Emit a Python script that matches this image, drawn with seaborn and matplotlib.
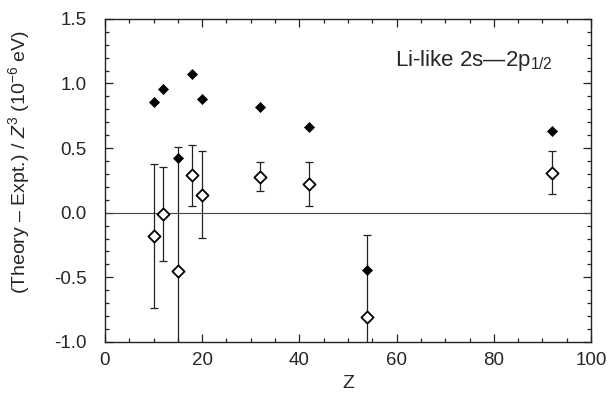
import matplotlib
matplotlib.use("Agg")
import matplotlib.pyplot as plt
import seaborn as sns
import pandas as pd
from matplotlib.ticker import MultipleLocator

# Li-like 2s-2p1/2 residuals, scaled by Z^3
z_open = [10, 12, 15, 18, 20, 32, 42, 54, 92]
dev_open = [-0.18, -0.01, -0.45, 0.29, 0.14, 0.28, 0.22, -0.81, 0.31]
err_open = [0.56, 0.365, 0.96, 0.235, 0.335, 0.113, 0.17, 0.635, 0.168]

z_filled = [10, 12, 15, 18, 20, 32, 42, 54, 92]
dev_filled = [0.86, 0.96, 0.42, 1.075, 0.88, 0.82, 0.66, -0.44, 0.635]

x_ticks = [0, 20, 40, 60, 80, 100]
y_ticks = [-1.0, -0.5, 0.0, 0.5, 1.0, 1.5]

sns.set_style("ticks")
plt.rcParams["font.family"] = ["Liberation Sans", "DejaVu Sans"]
plt.rcParams["mathtext.fontset"] = "custom"
plt.rcParams["mathtext.rm"] = "Liberation Sans"
plt.rcParams["mathtext.it"] = "Liberation Sans:italic"
plt.rcParams["axes.unicode_minus"] = False

fig = plt.figure(figsize=(6.10, 3.93), dpi=100)
ax = fig.add_axes([0.172, 0.130, 0.797, 0.822])

ax.axhline(0, color="#444444", lw=0.8, zorder=1)

ax.errorbar(z_open, dev_open, yerr=err_open, fmt="none", ecolor="#222222",
            elinewidth=0.9, capsize=3, capthick=0.9, zorder=2)

df_open = pd.DataFrame({"Z": z_open, "dev": dev_open})
df_filled = pd.DataFrame({"Z": z_filled, "dev": dev_filled})

sns.scatterplot(data=df_open, x="Z", y="dev", marker="D", s=38,
                facecolor="white", edgecolor="black", linewidth=1.3,
                ax=ax, zorder=3)
sns.scatterplot(data=df_filled, x="Z", y="dev", marker="D", s=26,
                color="black", edgecolor="black", linewidth=0.5,
                ax=ax, zorder=3)

ax.set_xlim(0, 100)
ax.set_ylim(-1.0, 1.5)
ax.set_xticks(x_ticks)
ax.set_yticks(y_ticks)
ax.set_xticklabels([str(v) for v in x_ticks])
ax.set_yticklabels([f"{v:.1f}" for v in y_ticks])
ax.xaxis.set_minor_locator(MultipleLocator(5))
ax.yaxis.set_minor_locator(MultipleLocator(0.1))
ax.tick_params(which="both", direction="in", top=True, right=True,
               color="#222222", width=0.9)
ax.tick_params(which="major", length=6, labelsize=13.5)
ax.tick_params(axis="x", which="major", pad=7)
ax.tick_params(axis="y", which="major", pad=13)
ax.tick_params(which="minor", length=3)
for sp in ax.spines.values():
    sp.set_linewidth(1.0)
    sp.set_color("#222222")

ax.set_xlabel("Z", fontsize=14)
ax.xaxis.set_label_coords(0.5, -0.103)
ax.set_ylabel("(Theory – Expt.) / $Z^3$ (10$^{-6}$ eV)", fontsize=14)
ax.yaxis.set_label_coords(-0.150, 0.555)

ax.text(0.597, 0.854, "Li-like 2s—2p$_{1/2}$", transform=ax.transAxes,
        fontsize=16, ha="left", va="baseline")

fig.savefig("out.png", dpi=100)
